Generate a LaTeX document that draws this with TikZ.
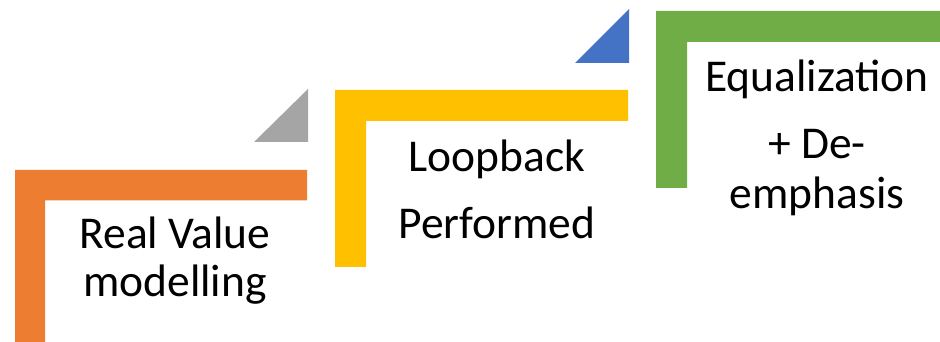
\documentclass[tikz,border=0pt]{standalone}
\usepackage{fontspec}
\setmainfont{Carlito}
\definecolor{stepOrange}{HTML}{ED7D31}
\definecolor{stepGray}{HTML}{A5A5A5}
\definecolor{stepYellow}{HTML}{FFC000}
\definecolor{stepBlue}{HTML}{4472C4}
\definecolor{stepGreen}{HTML}{70AD47}
\tikzset{steptext/.style={anchor=base,inner sep=0pt,font=\fontsize{45.5}{50}\selectfont}}

\begin{document}
\begin{tikzpicture}[x=1pt,y=1pt]
	\useasboundingbox (0,0) rectangle (940,342);
	
	% corner bars
	\fill[stepOrange] (15,0) -- (15,172) -- (307,172) -- (307,141.5) -- (45,141.5) -- (45,0) -- cycle;
	\fill[stepYellow] (335,75) -- (335,252) -- (628,252) -- (628,221) -- (366,221) -- (366,75) -- cycle;
	\fill[stepGreen] (656,154) -- (656,331) -- (940,331) -- (940,300) -- (687,300) -- (687,154) -- cycle;
	
	% triangles
	\fill[stepGray] (254,200) -- (308,200) -- (308,253) -- cycle;
	\fill[stepBlue] (575,279) -- (629,279) -- (629,333) -- cycle;
	
	% texts
	\node[steptext] (realA) at (175,93) {Real Value};
	\node[steptext] (realB) at (175,45) {modelling};
	
	\node[steptext] (loopA) at (497,170) {Loopback};
	\node[steptext] (loopB) at (497,103) {Performed};
	
	\node[steptext] (eqA) at (817,250) {Equalization};
	\node[steptext] (eqB) at (817,183) {+ De-};
	\node[steptext] (eqC) at (817,133) {emphasis};
\end{tikzpicture}
\end{document}
